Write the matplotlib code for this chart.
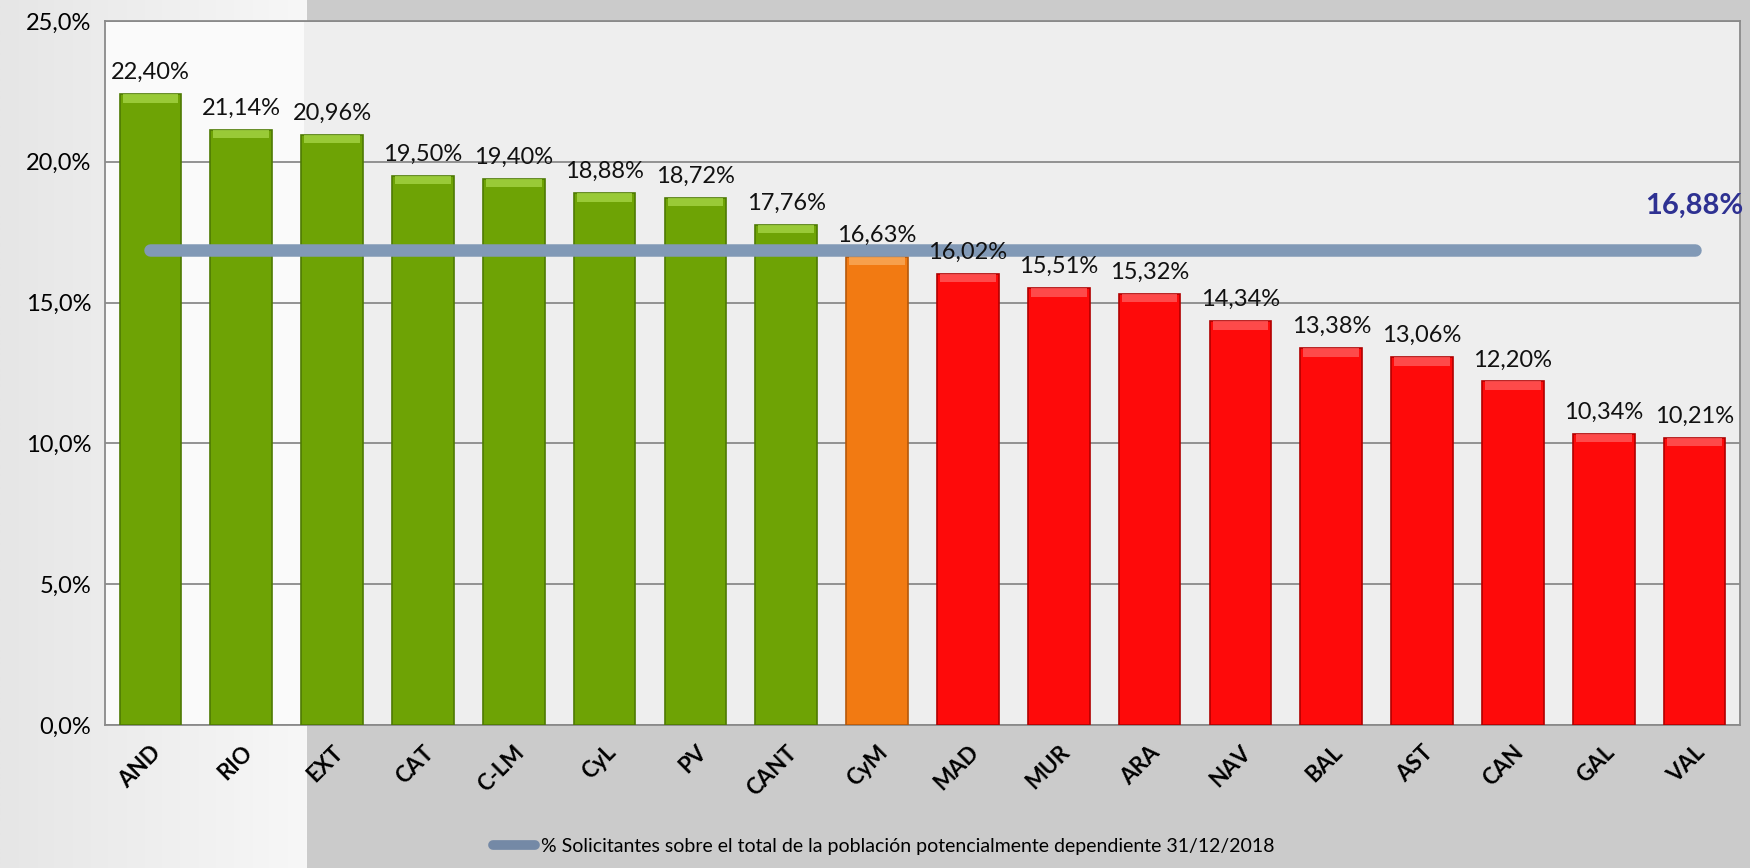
import matplotlib
matplotlib.use("Agg")
import matplotlib.pyplot as plt
from matplotlib.patches import Rectangle
from matplotlib.lines import Line2D
import numpy as np

categories = ["AND", "RIO", "EXT", "CAT", "C-LM", "CyL", "PV", "CANT", "CyM",
              "MAD", "MUR", "ARA", "NAV", "BAL", "AST", "CAN", "GAL", "VAL"]
values = [22.40, 21.14, 20.96, 19.50, 19.40, 18.88, 18.72, 17.76, 16.63,
          16.02, 15.51, 15.32, 14.34, 13.38, 13.06, 12.20, 10.34, 10.21]
groups = ["g"] * 8 + ["o"] + ["r"] * 9
average = 16.88
avg_label = "16,88%"
legend_label = "% Solicitantes sobre el total de la población potencialmente dependiente 31/12/2018"
yticks = [0, 5, 10, 15, 20, 25]
ytick_labels = ["0,0%", "5,0%", "10,0%", "15,0%", "20,0%", "25,0%"]

colors = {"g": "#6EA305", "o": "#F27A12", "r": "#FE0A0A"}
edges = {"g": "#4E7A03", "o": "#B5580A", "r": "#B00000"}
tops = {"g": "#A8D848", "o": "#F9AE60", "r": "#FF6060"}

plt.rcParams["font.family"] = ["Lato", "DejaVu Sans"]

fig = plt.figure(figsize=(17.5, 8.68), dpi=100)
fig.patch.set_facecolor("#C9C9C9")

# background (figure coords)
bg = fig.add_axes([0, 0, 1, 1], zorder=-10)
bg.set_axis_off()
bg.set_xlim(0, 1); bg.set_ylim(0, 1)
grad = np.linspace(0, 1, 200)[None, :]
bg.imshow(np.ones((2, 200)) * 0 + grad, extent=[0, 0.175, 0, 1], aspect="auto",
          cmap=matplotlib.colors.LinearSegmentedColormap.from_list("w", ["#E6E6E6", "#F7F7F7"]),
          zorder=1)
bg.add_patch(Rectangle((0.175, 0), 0.825, 1, facecolor="#CBCBCB", edgecolor="none", zorder=0))

ax = fig.add_axes([0.06, 0.1647, 0.9343, 0.8111])
ax.set_facecolor("#EEEEEE")
ax.add_patch(Rectangle((0, 0), 0.122, 1, transform=ax.transAxes, facecolor="#FAFAFA",
                       edgecolor="none", zorder=0))

x = np.arange(len(categories))
width = 0.68
bevel = 0.3
for xi, v, g in zip(x, values, groups):
    ax.bar(xi, v, width=width, color=colors[g], edgecolor=edges[g], linewidth=1.2, zorder=3)
    ax.bar(xi, bevel, bottom=v - bevel, width=width * 0.9, color=tops[g], edgecolor="none",
           alpha=0.75, zorder=4)
    ax.annotate(f"{v:.2f}%".replace(".", ","), (xi, v), xytext=(0, 8), textcoords="offset points",
                ha="center", va="bottom", fontsize=17, color="#111111", zorder=6)

ax.plot([x[0], x[-1]], [average, average], color="#8199B6", linewidth=9,
        solid_capstyle="round", zorder=5, label=legend_label)
ax.annotate(avg_label, (x[-1], average), xytext=(0, 22), textcoords="offset points",
            ha="center", va="bottom", fontsize=21, fontweight="bold", color="#2E3192", zorder=6)

ax.set_xlim(-0.5, len(categories) - 0.5)
ax.set_ylim(0, 25)
ax.set_yticks(yticks)
ax.set_yticklabels(ytick_labels, fontsize=17)
ax.set_xticks(x)
ax.set_xticklabels(categories, rotation=45, ha="right", va="top", rotation_mode="anchor",
                   fontsize=16, fontweight="bold")
ax.tick_params(axis="both", length=0, pad=10)
ax.tick_params(axis="x", pad=12)
ax.yaxis.grid(True, color="#8A8A8A", linewidth=1.3, zorder=1)
ax.set_axisbelow(True)
for s in ax.spines.values():
    s.set_color("#8A8A8A")
    s.set_linewidth(1.3)

handle = Line2D([0], [0], color="#7489A6", linewidth=7, solid_capstyle="round")
fig.legend([handle], [legend_label], loc="lower center", bbox_to_anchor=(0.505, -0.005),
           frameon=False, fontsize=14, handlelength=2.2, handletextpad=0.3)

fig.savefig("out.png", dpi=100, facecolor=fig.get_facecolor())
